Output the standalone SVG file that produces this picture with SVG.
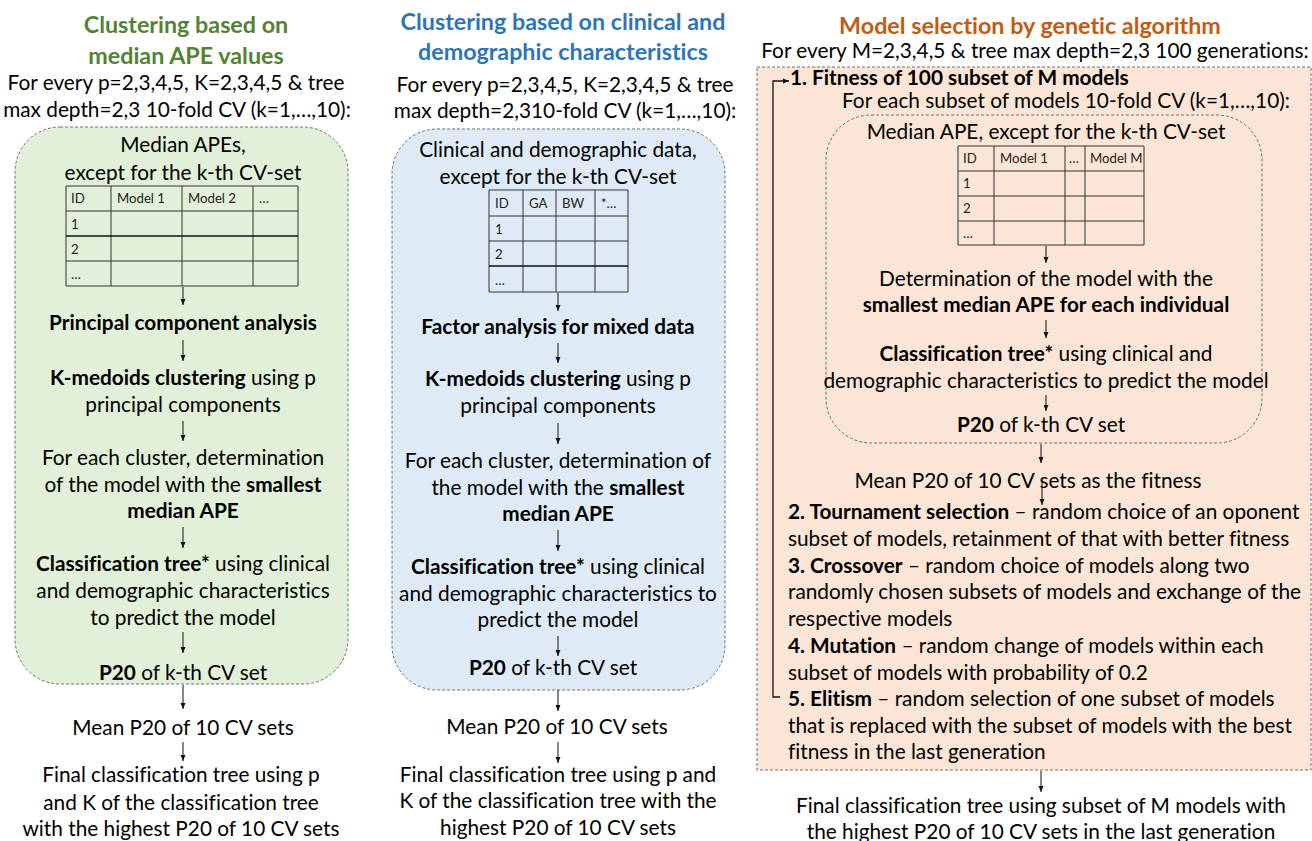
<svg xmlns="http://www.w3.org/2000/svg" width="1312" height="841" viewBox="0 0 1312 841">
  <defs>
    <style>
      text { font-family: Lato, "Open Sans", "Liberation Sans", sans-serif; font-size: 20.8px; fill: #000; font-variant-ligatures: none; }
      .c { text-anchor: middle; }
      .b { font-weight: bold; }
      .title { font-size: 23.3px; font-weight: bold; text-anchor: middle; }
      .tg { fill: #548235; }
      .tb { fill: #2E75B6; }
      .to { fill: #C55A11; }
      .cell { font-size: 13.2px; fill: #222; }
      .box { stroke: #6f6f6f; stroke-width: 1; stroke-dasharray: 3 2; }
      .grid { fill: none; stroke: #333; stroke-width: 1; }
      .grid2 { fill: none; stroke: #111; stroke-width: 1.6; }
      .arr { stroke: #111; stroke-width: 1; fill: none; marker-end: url(#ah); }
    </style>
    <marker id="ah" markerUnits="userSpaceOnUse" markerWidth="6" markerHeight="6" viewBox="0 0 6 6" refX="6" refY="3" orient="auto">
      <path d="M0,0.5 L6,3 L0,5.5 Z" fill="#111"/>
    </marker>
  </defs>

  <!-- background panels -->
  <g id="panel-green">
    <rect class="box" x="15" y="127" width="333" height="557" rx="45" fill="#E2F0D9"/>
  </g>
  <g id="panel-blue">
    <rect class="box" x="392" y="129" width="333" height="561" rx="45" fill="#DEEBF7"/>
  </g>
  <g id="panel-orange">
    <rect class="box" x="757" y="67" width="554" height="703" fill="#FBE5D6"/>
    <rect class="box" x="826" y="115" width="436" height="328" rx="45" fill="#FBE5D6"/>
  </g>

  <!-- column 1: clustering on median APE values -->
  <g id="col1-title">
    <text class="title tg" x="186" y="33">Clustering based on</text>
    <text class="title tg" x="186" y="64">median APE values</text>
    <text class="c" x="176" y="90">For every p=2,3,4,5, K=2,3,4,5 &amp; tree</text>
    <text class="c" x="177" y="117">max depth=2,3 10-fold CV (k=1,…,10):</text>
  </g>
  <g id="col1-data">
    <text class="c" x="183" y="152">Median APEs,</text>
    <text class="c" x="183" y="180">except for the k-th CV-set</text>
    <g id="col1-table">
      <path class="grid" d="M66,186 H298 V286 H66 Z M66,211 H298 M66,261 H298 M111,186 V286 M182,186 V286 M253,186 V286"/>
      <path class="grid2" d="M66,236 H298"/>
      <text class="cell" x="71" y="203">ID</text>
      <text class="cell" x="117" y="203">Model 1</text>
      <text class="cell" x="188" y="203">Model 2</text>
      <text class="cell" x="259" y="203">…</text>
      <text class="cell" x="71" y="229">1</text>
      <text class="cell" x="71" y="254">2</text>
      <text class="cell" x="71" y="279">…</text>
    </g>
  </g>
  <g id="col1-pca"><text class="c b" x="183" y="330">Principal component analysis</text></g>
  <g id="col1-kmedoids">
    <text class="c" x="183" y="385"><tspan class="b">K-medoids clustering</tspan> using p</text>
    <text class="c" x="183" y="412">principal components</text>
  </g>
  <g id="col1-best">
    <text class="c" x="183" y="465">For each cluster, determination</text>
    <text class="c" x="183" y="492">of the model with the <tspan class="b">smallest</tspan></text>
    <text class="c b" x="183" y="518">median APE</text>
  </g>
  <g id="col1-tree">
    <text class="c" x="183" y="571"><tspan class="b">Classification tree*</tspan> using clinical</text>
    <text class="c" x="183" y="598">and demographic characteristics</text>
    <text class="c" x="183" y="625">to predict the model</text>
  </g>
  <g id="col1-p20"><text class="c" x="183" y="680"><tspan class="b">P20</tspan> of k-th CV set</text></g>
  <g id="col1-mean"><text class="c" x="183" y="735">Mean P20 of 10 CV sets</text></g>
  <g id="col1-final">
    <text class="c" x="181" y="782">Final classification tree using p</text>
    <text class="c" x="181" y="810">and K of the classification tree</text>
    <text class="c" x="181" y="836">with the highest P20 of 10 CV sets</text>
  </g>

  <!-- column 2: clustering on clinical and demographic data -->
  <g id="col2-title">
    <text class="title tb" x="563" y="30">Clustering based on clinical and</text>
    <text class="title tb" x="563" y="60">demographic characteristics</text>
    <text class="c" x="565" y="92">For every p=2,3,4,5, K=2,3,4,5 &amp; tree</text>
    <text class="c" x="565" y="118">max depth=2,310-fold CV (k=1,…,10):</text>
  </g>
  <g id="col2-data">
    <text class="c" x="558" y="157">Clinical and demographic data,</text>
    <text class="c" x="558" y="184">except for the k-th CV-set</text>
    <g id="col2-table">
      <path class="grid" d="M489,190 H628 V292 H489 Z M489,216 H628 M489,241 H628 M523,190 V292 M556,190 V292 M595,190 V292"/>
      <path class="grid2" d="M489,266 H628"/>
      <text class="cell" x="495" y="208">ID</text>
      <text class="cell" x="529" y="208">GA</text>
      <text class="cell" x="562" y="208">BW</text>
      <text class="cell" x="601" y="208">*…</text>
      <text class="cell" x="495" y="234">1</text>
      <text class="cell" x="495" y="259">2</text>
      <text class="cell" x="495" y="285">…</text>
    </g>
  </g>
  <g id="col2-famd"><text class="c b" x="558" y="334">Factor analysis for mixed data</text></g>
  <g id="col2-kmedoids">
    <text class="c" x="558" y="386"><tspan class="b">K-medoids clustering</tspan> using p</text>
    <text class="c" x="558" y="413">principal components</text>
  </g>
  <g id="col2-best">
    <text class="c" x="558" y="468">For each cluster, determination of</text>
    <text class="c" x="558" y="495">the model with the <tspan class="b">smallest</tspan></text>
    <text class="c b" x="558" y="521">median APE</text>
  </g>
  <g id="col2-tree">
    <text class="c" x="558" y="574"><tspan class="b">Classification tree*</tspan> using clinical</text>
    <text class="c" x="558" y="601">and demographic characteristics to</text>
    <text class="c" x="558" y="627">predict the model</text>
  </g>
  <g id="col2-p20"><text class="c" x="553" y="675"><tspan class="b">P20</tspan> of k-th CV set</text></g>
  <g id="col2-mean"><text class="c" x="557" y="734">Mean P20 of 10 CV sets</text></g>
  <g id="col2-final">
    <text class="c" x="558" y="782">Final classification tree using p and</text>
    <text class="c" x="558" y="808">K of the classification tree with the</text>
    <text class="c" x="558" y="835">highest P20 of 10 CV sets</text>
  </g>

  <!-- column 3: genetic algorithm -->
  <g id="col3-title">
    <text class="title to" x="1030" y="34">Model selection by genetic algorithm</text>
    <text class="c" x="1035" y="58">For every M=2,3,4,5 &amp; tree max depth=2,3 100 generations:</text>
  </g>
  <g id="col3-fitness">
    <text class="b" x="790" y="85">1. Fitness of 100 subset of M models</text>
    <text class="c" x="1066" y="108">For each subset of models 10-fold CV (k=1,…,10):</text>
  </g>
  <g id="col3-data">
    <text class="c" x="1046" y="139">Median APE, except for the k-th CV-set</text>
    <g id="col3-table">
      <path class="grid" d="M958,146 H1144 V245 H958 Z M958,171 H1144 M958,196 H1144 M958,221 H1144 M994,146 V245 M1065,146 V245 M1085,146 V245"/>
      <text class="cell" x="963" y="163">ID</text>
      <text class="cell" x="1000" y="163">Model 1</text>
      <text class="cell" x="1069" y="163">…</text>
      <text class="cell" x="1090" y="163">Model M</text>
      <text class="cell" x="963" y="188">1</text>
      <text class="cell" x="963" y="213">2</text>
      <text class="cell" x="963" y="238">…</text>
    </g>
  </g>
  <g id="col3-best">
    <text class="c" x="1046" y="286">Determination of the model with the</text>
    <text class="c b" x="1046" y="312">smallest median APE for each individual</text>
  </g>
  <g id="col3-tree">
    <text class="c" x="1046" y="361"><tspan class="b">Classification tree*</tspan> using clinical and</text>
    <text class="c" x="1046" y="388">demographic characteristics to predict the model</text>
  </g>
  <g id="col3-p20"><text class="c" x="1041" y="432"><tspan class="b">P20</tspan> of k-th CV set</text></g>
  <g id="col3-mean"><text class="c" x="1028" y="488">Mean P20 of 10 CV sets as the fitness</text></g>
  <g id="col3-steps">
    <text x="788" y="519"><tspan class="b">2. Tournament selection</tspan> – random choice of an oponent</text>
    <text x="788" y="546">subset of models, retainment of that with better fitness</text>
    <text x="788" y="573"><tspan class="b">3. Crossover</tspan> – random choice of models along two</text>
    <text x="788" y="599">randomly chosen subsets of models and exchange of the</text>
    <text x="788" y="626">respective models</text>
    <text x="788" y="653"><tspan class="b">4. Mutation</tspan> – random change of models within each</text>
    <text x="788" y="680">subset of models with probability of 0.2</text>
    <text x="788" y="706"><tspan class="b">5. Elitism</tspan> – random selection of one subset of models</text>
    <text x="788" y="733">that is replaced with the subset of models with the best</text>
    <text x="788" y="759">fitness in the last generation</text>
  </g>
  <g id="col3-final">
    <text class="c" x="1041" y="813">Final classification tree using subset of M models with</text>
    <text class="c" x="1041" y="839">the highest P20 of 10 CV sets in the last generation</text>
  </g>

  <!-- connectors -->
  <g id="connectors">
    <path class="arr" d="M183,287 V305"/>
    <path class="arr" d="M183,340 V361"/>
    <path class="arr" d="M183,421 V441"/>
    <path class="arr" d="M183,527 V548"/>
    <path class="arr" d="M183,632 V653"/>
    <path class="arr" d="M183,685 V709"/>
    <path class="arr" d="M183,742 V761"/>

    <path class="arr" d="M558,293 V311"/>
    <path class="arr" d="M558,343 V363"/>
    <path class="arr" d="M558,423 V444"/>
    <path class="arr" d="M558,530 V551"/>
    <path class="arr" d="M558,636 V656"/>
    <path class="arr" d="M558,690 V711"/>
    <path class="arr" d="M558,742 V763"/>

    <path class="arr" d="M1046,246 V263"/>
    <path class="arr" d="M1046,320 V338"/>
    <path class="arr" d="M1046,395 V411"/>
    <path class="arr" d="M1041,444 V463"/>
    <path class="arr" d="M1042,478 V505"/>
    <path class="arr" d="M1041,771 V792"/>
    <path class="arr" style="stroke-width:1.3" d="M780,697 H773 V81 H789"/>
  </g>
</svg>
